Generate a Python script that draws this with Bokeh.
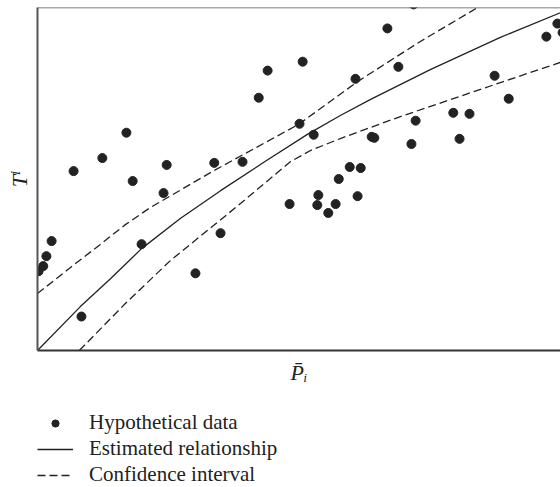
from bokeh.plotting import figure
from bokeh.models import Range1d, Span, Legend, LegendItem
from bokeh.layouts import column
from bokeh.embed import file_html
from bokeh.resources import INLINE

# Hypothetical data (x: P-bar, y: T), arbitrary units 0..100
data_x = [0.2, 1.1, 1.7, 2.7, 6.9, 8.4, 12.4, 17.0, 18.2, 19.9, 24.1, 24.7, 30.2,
          33.8, 35.0, 39.2, 42.3, 44.0, 48.2, 50.1, 50.7, 52.8, 53.5, 53.7, 55.6,
          57.0, 57.6, 59.7, 60.8, 61.2, 61.8, 63.9, 64.4, 66.9, 69.0, 71.5, 71.9,
          72.3, 79.5, 80.7, 82.6, 87.4, 90.1, 97.3, 99.4, 100.4]
data_y = [23.1, 24.6, 27.5, 31.9, 52.3, 9.9, 56.1, 63.5, 49.4, 31.0, 45.9, 54.1, 22.5,
          54.7, 34.2, 55.0, 73.7, 81.6, 42.7, 66.1, 84.2, 62.9, 42.4, 45.3, 40.1,
          42.7, 50.0, 53.5, 79.2, 45.0, 53.2, 62.3, 62.0, 93.9, 82.7, 60.2, 100.9,
          67.0, 69.3, 61.7, 69.0, 80.1, 73.4, 91.5, 95.3, 92.7]

# Estimated relationship
fit_x = [0.0, 8.2, 14.0, 19.9, 27.3, 35.0, 43.2, 51.6, 57.9, 63.7, 75.1, 88.5, 100.0]
fit_y = [0.0, 12.8, 21.0, 29.7, 38.5, 46.6, 54.8, 63.0, 68.5, 73.2, 81.9, 91.3, 98.5]

# Confidence interval
upper_x = [0.0, 6.3, 12.0, 16.8, 21.6, 33.8, 49.9, 61.2, 73.2, 86.4]
upper_y = [16.6, 24.2, 30.9, 36.7, 41.7, 52.5, 65.9, 78.4, 90.1, 102.0]
lower_x = [8.0, 16.8, 25.4, 37.9, 48.4, 52.2, 57.9, 69.4, 88.5, 100.0]
lower_y = [0.0, 13.7, 26.2, 41.7, 55.1, 58.3, 61.8, 68.2, 78.1, 84.0]

legend_labels = ["Hypothetical data", "Estimated relationship", "Confidence interval"]
x_label = "P\u0304\u1d62"
y_label = "T\u2071"

X_MIN, X_MAX = 0, 100
Y_MIN, Y_MAX = 0, 100

INK = "#222222"
SERIF = "'Liberation Serif', 'DejaVu Serif', serif"
DASH = "8 4"
NAN = float("nan")

p = figure(width=560, height=400, output_backend="svg", toolbar_location=None,
           x_range=Range1d(X_MIN, X_MAX), y_range=Range1d(Y_MIN, Y_MAX),
           min_border_left=37, min_border_right=0, min_border_top=7,
           min_border_bottom=50)
p.outline_line_color = None
p.grid.visible = False

for ax in (p.xaxis, p.yaxis):
    ax.ticker = []
    ax.major_tick_line_color = None
    ax.minor_tick_line_color = None
    ax.major_tick_out = 0
    ax.major_label_standoff = 0
    ax.axis_line_width = 2
    ax.axis_label_text_font = SERIF
    ax.axis_label_text_font_style = "italic"
    ax.axis_label_text_font_size = "22px"
    ax.axis_label_text_color = INK
p.xaxis.axis_line_color = "#333333"
p.yaxis.axis_line_color = "#555555"
p.xaxis.axis_label = x_label
p.yaxis.axis_label = y_label
p.xaxis.axis_label_standoff = 9
p.yaxis.axis_label_standoff = 6

p.add_layout(Span(location=Y_MAX, dimension="width", line_color="#555555", line_width=1.5))

p.scatter(data_x, data_y, size=9, color=INK, line_color=INK)
p.line(fit_x, fit_y, line_color=INK, line_width=1.3)
p.line(upper_x, upper_y, line_color=INK, line_width=1.3, line_dash=DASH)
p.line(lower_x, lower_y, line_color=INK, line_width=1.3, line_dash=DASH)

# legend panel below the plot
q = figure(width=560, height=87, output_backend="svg", toolbar_location=None,
           x_range=Range1d(0, 1), y_range=Range1d(0, 1),
           min_border_left=0, min_border_right=0, min_border_top=0, min_border_bottom=0)
q.outline_line_color = None
q.grid.visible = False
q.axis.visible = False
r_pts = q.scatter([NAN], [NAN], size=9, color=INK, line_color=INK)
r_fit = q.line([NAN, NAN], [NAN, NAN], line_color=INK, line_width=1.3)
r_ci = q.line([NAN, NAN], [NAN, NAN], line_color=INK, line_width=1.3, line_dash=DASH)

legend = Legend(items=[LegendItem(label=legend_labels[0], renderers=[r_pts]),
                       LegendItem(label=legend_labels[1], renderers=[r_fit]),
                       LegendItem(label=legend_labels[2], renderers=[r_ci])],
                location=(0, 0), orientation="vertical",
                glyph_width=36, glyph_height=18, label_height=20, label_standoff=16,
                spacing=1, padding=0, margin=0, border_line_color=None,
                background_fill_alpha=0, label_text_font=SERIF,
                label_text_font_size="21px", label_text_color=INK)
q.add_layout(legend)

layout = column(p, q, spacing=0)
open("out.html", "w").write(file_html(layout, INLINE))
